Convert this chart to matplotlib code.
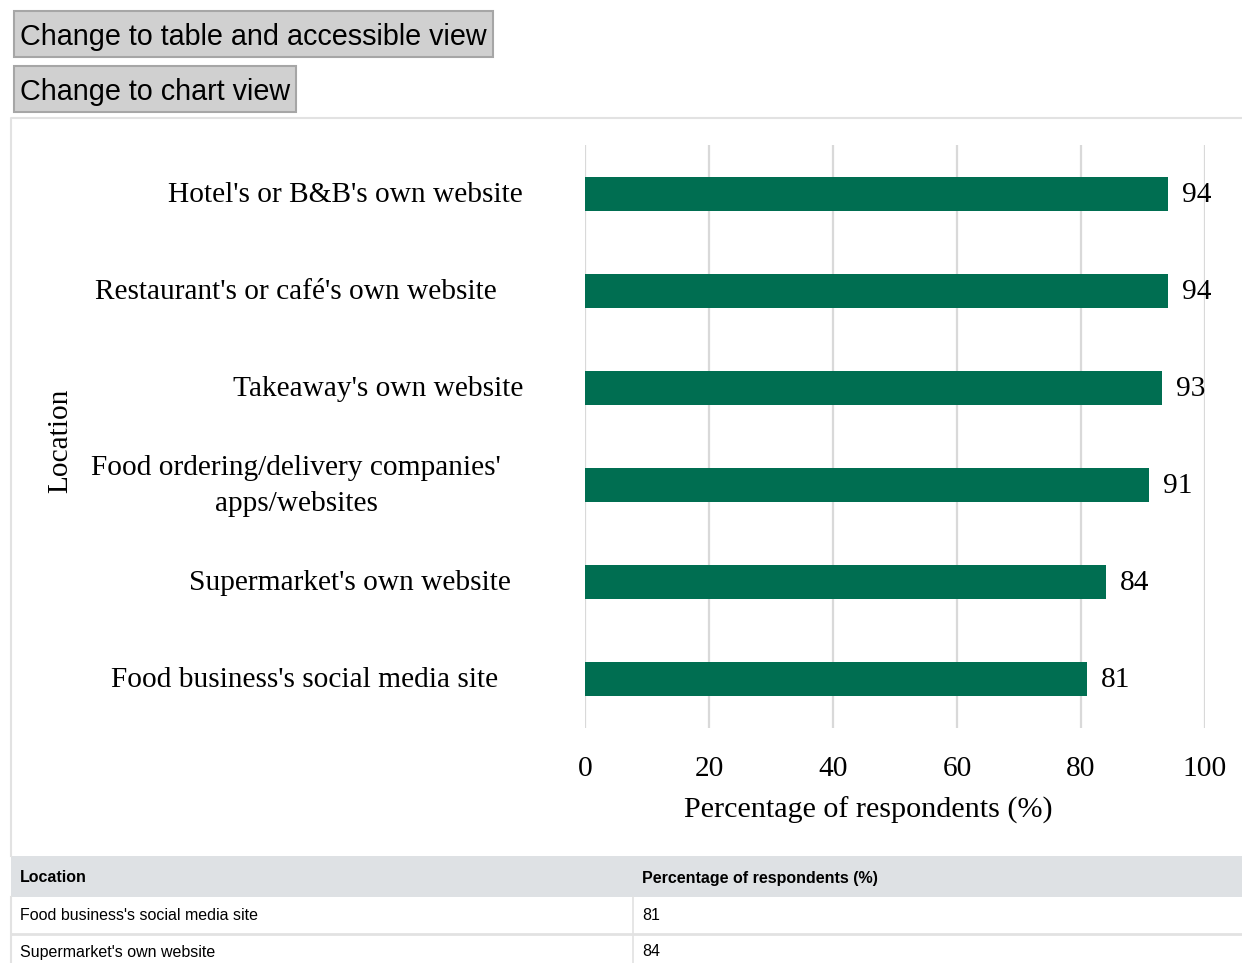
import matplotlib
matplotlib.use("Agg")
import matplotlib.pyplot as plt
from matplotlib.patches import Rectangle

# survey data: share of respondents who would check allergen info at each location
locations = [
    "Hotel's or B&B's own website",
    "Restaurant's or café's own website",
    "Takeaway's own website",
    "Food ordering/delivery companies'\napps/websites",
    "Supermarket's own website",
    "Food business's social media site",
]
percent = [94, 94, 93, 91, 84, 81]
x_ticks = [0, 20, 40, 60, 80, 100]

# table below the chart lists the rows bottom-up
table_rows = list(zip(locations[::-1], percent[::-1]))[:2]

# horizontal centre of each category label, in pixels
label_centres = [345, 296, 378, 296, 350, 305]

W, H = 1242, 963
BAR = "#006e51"
SERIF = "Liberation Serif"
SANS = "Liberation Sans"
FS = 21.2

fig = plt.figure(figsize=(W / 100, H / 100), dpi=100, facecolor="white")

# page layer in pixel coordinates for buttons, frame and table
pg = fig.add_axes([0, 0, 1, 1], zorder=0)
pg.set_xlim(0, W)
pg.set_ylim(H, 0)
pg.axis("off")

def button(x0, y0, x1, y1, text):
    pg.add_patch(Rectangle((x0, y0), x1 - x0, y1 - y0, facecolor="#d0d0d0",
                           edgecolor="#a6a6a6", lw=1.5))
    pg.text(x0 + 6, (y0 + y1) / 2 + 3, text, fontsize=20.7, family=SANS,
            va="center", ha="left", color="black")

button(14, 11, 493, 57, "Change to table and accessible view")
button(14, 66, 296, 112, "Change to chart view")

# chart frame
pg.plot([11, 11, W], [856, 118, 118], color="#e2e2e2", lw=1.5)

# table header and rows
TFS = 11.5
pg.add_patch(Rectangle((11, 856), W - 11, 41, facecolor="#dee1e4", edgecolor="none"))
pg.text(20, 878, "Location", fontsize=TFS, family=SANS, weight="bold", va="center")
pg.text(642, 878, "Percentage of respondents (%)", fontsize=TFS, family=SANS,
        weight="bold", va="center")
row_y = 897
for name, val in table_rows:
    pg.text(20, row_y + 18, name, fontsize=TFS, family=SANS, va="center")
    pg.text(642, row_y + 18, str(val), fontsize=TFS, family=SANS, va="center")
    pg.plot([633, 633], [row_y, row_y + 37], color="#e2e2e2", lw=1.2)
    pg.plot([11, W], [row_y + 37, row_y + 37], color="#e2e2e2", lw=2)
    row_y += 37
pg.plot([11, 11], [897, H], color="#e2e2e2", lw=1.5)

# bar chart
ax = fig.add_axes([585 / W, 1 - 728 / H, 620 / W, 583 / H], zorder=1)
ax.patch.set_alpha(0)
pos = list(range(len(locations)))
ax.barh(pos, percent, height=0.35, color=BAR, zorder=2)
ax.set_xlim(0, 100)
ax.set_ylim(len(locations) - 0.5, -0.5)
ax.set_xticks(x_ticks)
ax.set_xticklabels([str(t) for t in x_ticks], family=SERIF, fontsize=FS)
ax.tick_params(axis="x", length=0, pad=20)
ax.set_yticks([])
ax.grid(axis="x", color="#d9d9d9", lw=1.6, zorder=0)
for s in ax.spines.values():
    s.set_visible(False)

for p, v in zip(pos, percent):
    ax.annotate(str(v), (v, p), xytext=(14, -1), textcoords="offset pixels",
                va="center", ha="left", family=SERIF, fontsize=FS, zorder=3)

for p, name, cx in zip(pos, locations, label_centres):
    pg.text(cx, 146 + (p + 0.5) * 583 / len(locations), name, ha="center",
            va="center", family=SERIF, fontsize=FS, linespacing=1.5)

pg.text(60, 441, "Location", rotation=90, ha="center", va="center",
        family=SERIF, fontsize=FS)
pg.text(868, 810, "Percentage of respondents (%)", ha="center", va="center",
        family=SERIF, fontsize=FS + 0.5)

fig.savefig("out.png", dpi=100, facecolor="white")
